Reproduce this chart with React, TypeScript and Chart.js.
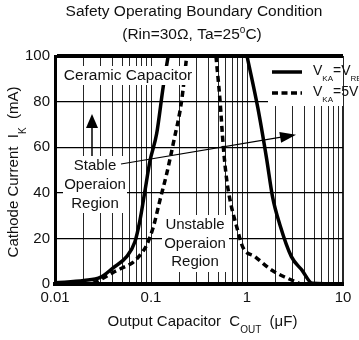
import React, { useEffect, useRef } from "react";
import { Chart, registerables } from "chart.js";

Chart.register(...registerables);

const FONT = '"Liberation Sans", Arial, Helvetica, sans-serif';
const TEXT = "#111";

// V_KA = V_REF (solid) — left branch and right branch
const solidLeftX = [0.01, 0.02, 0.03, 0.04, 0.0558, 0.068, 0.0768, 0.0866, 0.0976, 0.1146, 0.134, 0.151];
const solidLeftY = [0.5, 1.5, 3, 7, 12, 18.5, 28, 41, 54, 66, 86.5, 100];
const solidRightX = [1.0, 1.3, 1.6, 1.85, 2.2, 2.9, 3.75, 4.8, 10];
const solidRightY = [100, 77, 55, 38, 26, 12, 6, 0.3, 0];

// V_KA = 5V (dashed) — left branch and right branch
const dashLeftX = [0.025, 0.03, 0.04, 0.05, 0.065, 0.078, 0.09, 0.1057, 0.124, 0.146, 0.1707, 0.209, 0.2355];
const dashLeftY = [0.3, 2, 5, 7, 9.5, 13, 17, 25, 36.8, 48.5, 61.7, 80.7, 100];
const dashRightX = [0.475, 0.523, 0.567, 0.615, 0.666, 0.782, 0.908, 1.21, 1.82, 2.61, 3.5];
const dashRightY = [100, 80.7, 60, 45.6, 36.8, 25, 16, 12, 6, 2.6, 0.3];

const xDecades = [0.01, 0.1, 1];
const xTickLabels = ["0.01", "0.1", "1", "10"];
const xTickLabelValues = [0.01, 0.1, 1, 10];
const yTickStep = 20;

const xGridValues: number[] = [];
xDecades.forEach((d) => {
  for (let m = 1; m <= 9; m++) xGridValues.push(parseFloat((m * d).toPrecision(3)));
});
xGridValues.push(10);

const toPts = (xs: number[], ys: number[]) => xs.map((x, i) => ({ x, y: ys[i] }));

type Seg = { t: string; size: number; dy?: number };

function drawRich(ctx: CanvasRenderingContext2D, segs: Seg[], x: number, y: number, align: "left" | "center" | "right") {
  let total = 0;
  const widths = segs.map((s) => {
    ctx.font = `${s.size}px ${FONT}`;
    const w = ctx.measureText(s.t).width;
    total += w;
    return w;
  });
  let cx = align === "left" ? x : align === "center" ? x - total / 2 : x - total;
  ctx.textBaseline = "middle";
  ctx.textAlign = "left";
  segs.forEach((s, i) => {
    ctx.font = `${s.size}px ${FONT}`;
    ctx.fillText(s.t, cx, y + (s.dy || 0));
    cx += widths[i];
  });
}

function whiteBox(ctx: CanvasRenderingContext2D, x0: number, y0: number, x1: number, y1: number) {
  ctx.fillStyle = "#fff";
  ctx.fillRect(x0, y0, x1 - x0, y1 - y0);
}

function arrowHead(ctx: CanvasRenderingContext2D, tx: number, ty: number, ang: number, len: number, half: number) {
  const bx = tx - Math.cos(ang) * len;
  const by = ty - Math.sin(ang) * len;
  const nx = -Math.sin(ang);
  const ny = Math.cos(ang);
  ctx.beginPath();
  ctx.moveTo(tx, ty);
  ctx.lineTo(bx + nx * half, by + ny * half);
  ctx.lineTo(bx - nx * half, by - ny * half);
  ctx.closePath();
  ctx.fill();
}

const annotPlugin = {
  id: "annot",
  afterDatasetsDraw(chart: any) {
    const ctx: CanvasRenderingContext2D = chart.ctx;
    ctx.save();

    // text boxes with white backgrounds
    whiteBox(ctx, 61, 66, 194, 85);
    whiteBox(ctx, 63, 156, 127, 213);
    whiteBox(ctx, 162, 215, 229, 272);
    whiteBox(ctx, 268, 58, 343, 106);

    ctx.fillStyle = TEXT;
    drawRich(ctx, [{ t: "Ceramic Capacitor", size: 15.5 }], 128, 75.5, "center");
    drawRich(ctx, [{ t: "Stable", size: 15 }], 95, 166, "center");
    drawRich(ctx, [{ t: "Operaion", size: 15 }], 95, 185, "center");
    drawRich(ctx, [{ t: "Region", size: 15 }], 95, 204, "center");
    drawRich(ctx, [{ t: "Unstable", size: 15 }], 195, 225, "center");
    drawRich(ctx, [{ t: "Operaion", size: 15 }], 195, 243.5, "center");
    drawRich(ctx, [{ t: "Region", size: 15 }], 195, 262, "center");

    // up arrow
    ctx.strokeStyle = "#000";
    ctx.fillStyle = "#000";
    ctx.lineWidth = 1.5;
    ctx.beginPath();
    ctx.moveTo(92, 156);
    ctx.lineTo(92, 126);
    ctx.stroke();
    arrowHead(ctx, 92, 114, -Math.PI / 2, 14, 6);

    // arrow from Stable to the right
    const ax0 = 121, ay0 = 164, ax1 = 296, ay1 = 134.7;
    const ang = Math.atan2(ay1 - ay0, ax1 - ax0);
    ctx.lineWidth = 1.2;
    ctx.beginPath();
    ctx.moveTo(ax0, ay0);
    ctx.lineTo(ax1 - Math.cos(ang) * 12, ay1 - Math.sin(ang) * 12);
    ctx.stroke();
    arrowHead(ctx, ax1, ay1, ang, 16, 5.5);

    // legend
    ctx.lineWidth = 3.5;
    ctx.setLineDash([]);
    ctx.beginPath();
    ctx.moveTo(272, 72);
    ctx.lineTo(302, 72);
    ctx.stroke();
    ctx.setLineDash([6, 3.5]);
    ctx.beginPath();
    ctx.moveTo(272, 93);
    ctx.lineTo(302, 93);
    ctx.stroke();
    ctx.setLineDash([]);
    ctx.fillStyle = TEXT;
    drawRich(ctx, [
      { t: "V", size: 14 },
      { t: "KA", size: 8, dy: 7.5 },
      { t: "=V", size: 14 },
      { t: "REF", size: 8, dy: 7.5 },
    ], 313, 71, "left");
    drawRich(ctx, [
      { t: "V", size: 14 },
      { t: "KA", size: 8, dy: 7.5 },
      { t: "=5V", size: 14 },
    ], 313, 92, "left");

    ctx.restore();
  },
  afterDraw(chart: any) {
    const ctx: CanvasRenderingContext2D = chart.ctx;
    ctx.save();
    ctx.fillStyle = TEXT;
    drawRich(ctx, [{ t: "Safety Operating Boundary Condition", size: 15.5 }], 194, 12, "center");
    drawRich(ctx, [
      { t: "(Rin=30\u03A9, Ta=25", size: 15.5 },
      { t: "o", size: 10, dy: -5 },
      { t: "C)", size: 15.5 },
    ], 192, 35, "center");

    drawRich(ctx, [
      { t: "Output Capacitor  C", size: 15 },
      { t: "OUT", size: 10, dy: 8 },
      { t: "  (\u03BCF)", size: 15 },
    ], 202.5, 322, "center");

    ctx.translate(14, 172);
    ctx.rotate(-Math.PI / 2);
    drawRich(ctx, [
      { t: "Cathode Current  I", size: 15 },
      { t: "K", size: 10, dy: 9 },
      { t: "  (mA)", size: 15 },
    ], 0, 0, "center");
    ctx.restore();
  },
};

export default function App() {
  const ref = useRef<HTMLCanvasElement | null>(null);

  useEffect(() => {
    if (!ref.current) return;
    const common = {
      borderColor: "#000",
      borderWidth: 3.5,
      pointRadius: 0,
      fill: false,
      tension: 0.4,
      cubicInterpolationMode: "monotone" as const,
    };
    const chart = new Chart(ref.current, {
      type: "line",
      data: {
        datasets: [
          { ...common, label: "VKA=VREF", data: toPts(solidLeftX, solidLeftY) },
          { ...common, label: "VKA=VREF", data: toPts(solidRightX, solidRightY) },
          { ...common, label: "VKA=5V", data: toPts(dashLeftX, dashLeftY), borderDash: [6, 4] },
          { ...common, label: "VKA=5V", data: toPts(dashRightX, dashRightY), borderDash: [6, 4] },
        ],
      },
      options: {
        animation: false,
        responsive: false,
        maintainAspectRatio: false,
        layout: { padding: { left: 0, top: 56, right: 16, bottom: 0 } },
        plugins: {
          legend: { display: false },
          tooltip: { enabled: false },
          title: { display: false },
        },
        scales: {
          x: {
            type: "logarithmic",
            min: 0.01,
            max: 10,
            afterBuildTicks: (s: any) => {
              s.ticks = xGridValues.map((v) => ({ value: v }));
            },
            afterFit: (s: any) => {
              s.height = 56;
            },
            ticks: {
              autoSkip: false,
              maxRotation: 0,
              minRotation: 0,
              padding: 5,
              color: TEXT,
              font: { family: FONT, size: 15 },
              callback: (v: any) => {
                const i = xTickLabelValues.findIndex((t) => Math.abs(t - Number(v)) < 1e-9);
                return i >= 0 ? xTickLabels[i] : "";
              },
            },
            grid: {
              drawTicks: false,
              color: "rgba(0,0,0,0.85)",
              lineWidth: (c: any) => (c.tick && Math.abs(c.tick.value - 10) < 1e-9 ? 2 : 1),
            },
            border: { display: true, width: 4, color: "#000" },
          },
          y: {
            min: 0,
            max: 100,
            afterFit: (s: any) => {
              s.width = 55;
            },
            ticks: {
              stepSize: yTickStep,
              padding: 5,
              color: TEXT,
              font: { family: FONT, size: 15 },
            },
            grid: {
              drawTicks: false,
              color: "#000",
              lineWidth: (c: any) => (c.tick && (c.tick.value === 100 || c.tick.value === 0) ? 4 : 1.3),
            },
            border: { display: true, width: 3, color: "#000" },
          },
        },
      },
      plugins: [annotPlugin],
    } as any);
    return () => chart.destroy();
  }, []);

  return (
    <div style={{ position: "fixed", left: 0, top: 0, width: 359, height: 340, background: "#fff" }}>
      <canvas ref={ref} width={359} height={340} style={{ width: 359, height: 340, display: "block" }} />
    </div>
  );
}
